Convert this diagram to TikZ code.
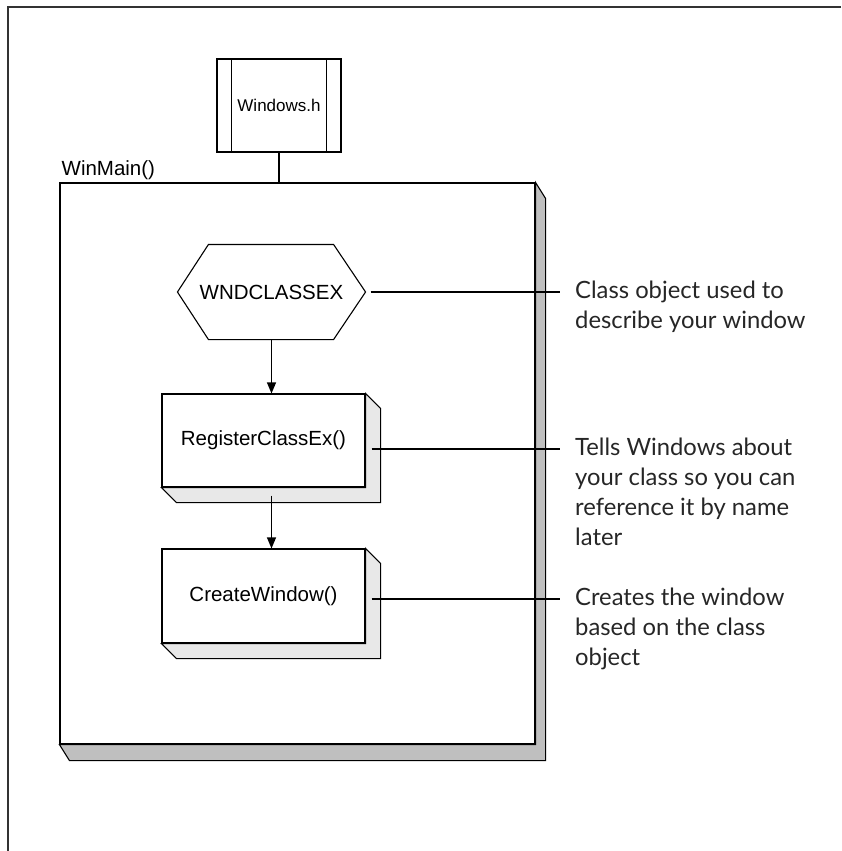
\documentclass[tikz,border=0pt]{standalone}
\usepackage{fontspec}
\setmainfont{Liberation Sans}
\newfontfamily\notefont{Lato}
\usetikzlibrary{arrows.meta, positioning, calc}

\begin{document}
\begin{tikzpicture}[x=1pt, y=-1pt,
  box/.style={rectangle, draw, line width=1.1pt, inner sep=0pt, font=\fontsize{20.5}{24}\selectfont},
  line/.style={line width=1.1pt},
  arr/.style={-{Triangle[length=11pt, width=9pt]}, line width=1.1pt},
  note/.style={anchor=north west, align=left, inner sep=0pt, font=\notefont\fontsize{23.8}{30}\selectfont, text=black!85},
  frame/.style={line width=2.8pt, draw=black!80}
]
\useasboundingbox (0,0) rectangle (841,851);

% Outer frame (top and left only)
\draw[frame] (841,7) -- (8,7) -- (8,851);

% Header file
\node[box, minimum width=124pt, minimum height=93pt, font=\fontsize{17}{20}\selectfont] (hdr) at (279,105.5) {Windows.h};
\draw[line] ([xshift=15pt]hdr.north west) -- ([xshift=15pt]hdr.south west);
\draw[line] ([xshift=-15pt]hdr.north east) -- ([xshift=-15pt]hdr.south east);

% WinMain box with its shadow
\node[box, minimum width=475pt, minimum height=561pt] (winmain) at (297.5,463.5) {};
\draw[line, fill=black!25] (winmain.north east) -- ++(10,16) -- ([shift={(10,16)}]winmain.south east) -- ([shift={(10,16)}]winmain.south west) -- (winmain.south west) -- (winmain.south east) -- cycle;
\node[anchor=base west, inner sep=0pt, font=\fontsize{20.5}{24}\selectfont] (mainlbl) at ([xshift=2pt, yshift=7pt]winmain.north west) {WinMain()};
\draw[line] (hdr.south) -- (hdr.south |- winmain.north);

% Class structure (hexagon)
\node[box, draw=none, minimum width=187pt, minimum height=94pt] (wnd) at (271.5,292) {WNDCLASSEX};
\draw[line] (wnd.west) -- ([xshift=31pt]wnd.north west) -- ([xshift=-32pt]wnd.north east) -- (wnd.east) -- ([xshift=-32pt]wnd.south east) -- ([xshift=31pt]wnd.south west) -- cycle;

% Function calls
\node[box, minimum width=203pt, minimum height=93pt] (reg) at (263.5,440.5) {RegisterClassEx()};
\node[box, minimum width=203pt, minimum height=94pt] (create) at (263.5,596) {CreateWindow()};
\foreach \n in {reg, create}
  \draw[line, fill=black!9] (\n.north east) -- ++(15,15) -- ([shift={(15,15)}]\n.south east) -- ([shift={(15,15)}]\n.south west) -- (\n.south west) -- (\n.south east) -- cycle;

% Flow arrows
\draw[arr] (wnd.south) -- (wnd.south |- reg.north);
\draw[arr, shorten <=8pt] (reg.south -| wnd.south) -- (create.north -| wnd.south);

% Notes on the right
\node[note] (note1) at (575,280.5) {Class object used to\\describe your window};
\node[note] (note2) at (575,437.5) {Tells Windows about\\your class so you can\\reference it by name\\later};
\node[note] (note3) at (575,587.5) {Creates the window\\based on the class\\object};
\coordinate (n1) at ([xshift=-15pt, yshift=-11.5pt]note1.north west);
\coordinate (n2) at ([xshift=-15pt, yshift=-11.5pt]note2.north west);
\coordinate (n3) at ([xshift=-15pt, yshift=-11.5pt]note3.north west);
\draw[line] ([xshift=5pt]wnd.east |- n1) -- (n1);
\draw[line] ([xshift=6pt]reg.east |- n2) -- (n2);
\draw[line] ([xshift=6pt]create.east |- n3) -- (n3);

\end{tikzpicture}
\end{document}
